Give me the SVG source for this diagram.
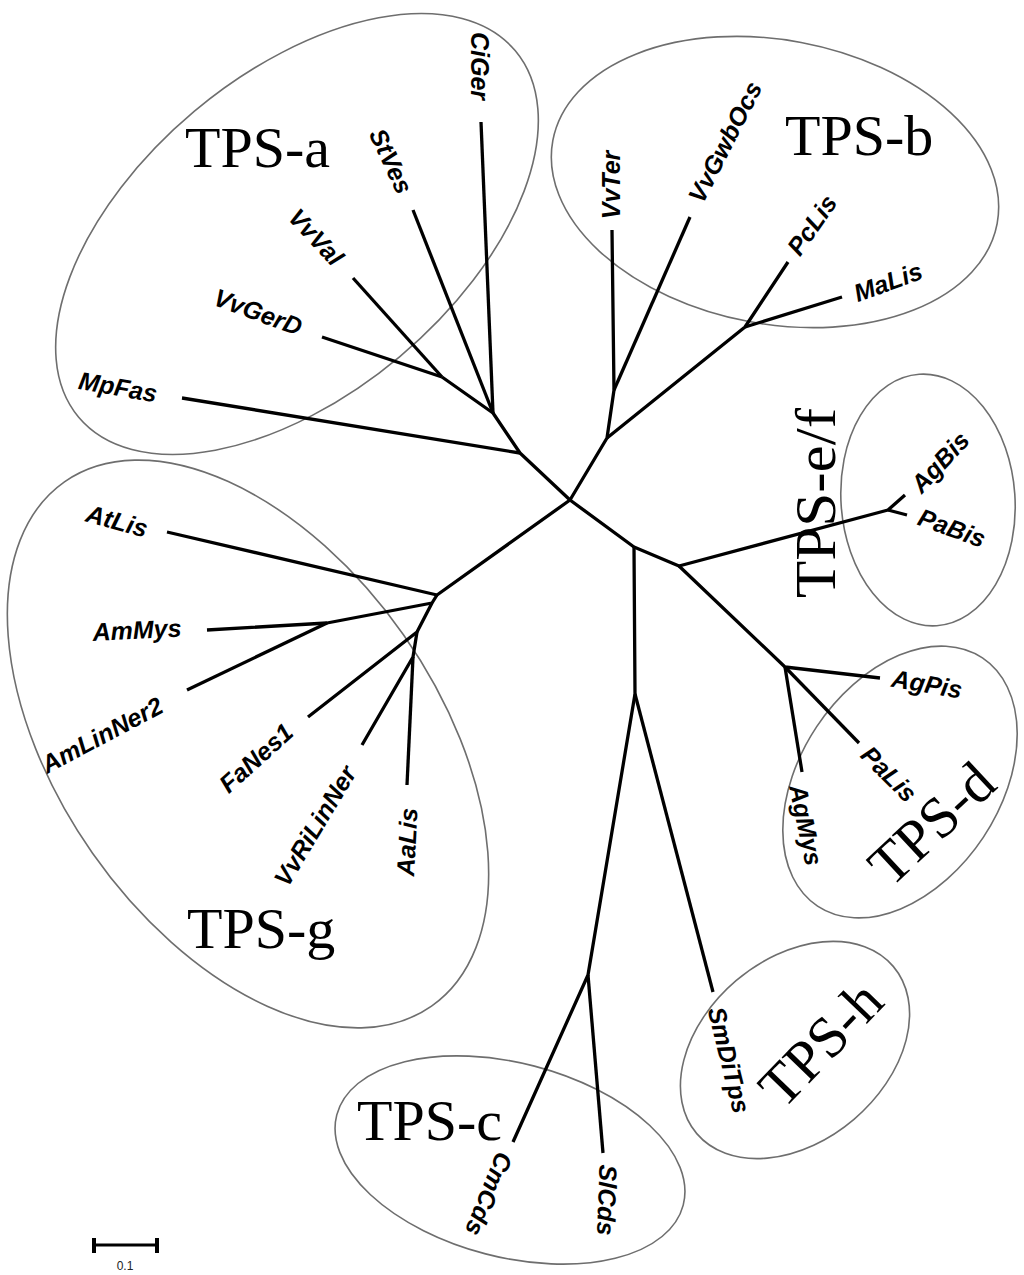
<svg xmlns="http://www.w3.org/2000/svg" width="1024" height="1275" viewBox="0 0 1024 1275">
<style>
.edge{fill:none;stroke:#000;stroke-width:3.3;stroke-linejoin:round;stroke-linecap:butt}
.clade{fill:none;stroke:#6e6e6e;stroke-width:1.6}
.leaf{font-family:"Liberation Sans",Arial,sans-serif;font-weight:bold;font-style:italic;font-size:25px;fill:#000;text-anchor:middle}
.tps{font-family:"Liberation Serif","Times New Roman",serif;font-size:58px;fill:#000}
.scale{font-family:"Liberation Sans",Arial,sans-serif;font-size:12px;fill:#222;text-anchor:middle}
</style>
<rect width="1024" height="1275" fill="#fff"/>

<g id="clades">
  <g id="clade-tps-a"><ellipse class="clade" cx="297" cy="234" rx="285" ry="160" transform="rotate(-40 297 234)"/><text class="tps" x="185" y="167">TPS-a</text></g>
  <g id="clade-tps-b"><ellipse class="clade" cx="775" cy="182" rx="226" ry="142" transform="rotate(10.6 775 182)"/><text class="tps" x="785" y="155">TPS-b</text></g>
  <g id="clade-tps-ef"><ellipse class="clade" cx="928" cy="500" rx="87" ry="126" transform="rotate(-4 928 500)"/><text class="tps" transform="translate(835 598) rotate(-90)" textLength="190" lengthAdjust="spacingAndGlyphs">TPS-e/f</text></g>
  <g id="clade-tps-d"><ellipse class="clade" cx="900" cy="782" rx="149" ry="100" transform="rotate(-56.4 900 782)"/><text class="tps" text-anchor="middle" dy="0.35em" transform="translate(931 823) rotate(-43)">TPS-d</text></g>
  <g id="clade-tps-h"><ellipse class="clade" cx="795" cy="1050" rx="129" ry="91" transform="rotate(-40.4 795 1050)"/><text class="tps" text-anchor="middle" dy="0.35em" transform="translate(820 1043) rotate(-46)">TPS-h</text></g>
  <g id="clade-tps-c"><ellipse class="clade" cx="510" cy="1160" rx="179" ry="97" transform="rotate(14.6 510 1160)"/><text class="tps" x="357" y="1140">TPS-c</text></g>
  <g id="clade-tps-g"><ellipse class="clade" cx="248" cy="744" rx="320" ry="190" transform="rotate(55 248 744)"/><text class="tps" x="187" y="948">TPS-g</text></g>
</g>

<g id="connectors">
  <path class="edge" d="M570 500 L520 453 L493 413 L442 377"/>
  <path class="edge" d="M520 453 L182 398"/>
  <path class="edge" d="M493 413 L481 122"/>
  <path class="edge" d="M493 413 L413 210"/>
  <path class="edge" d="M442 377 L353 278"/>
  <path class="edge" d="M442 377 L322 337"/>
  <path class="edge" d="M570 500 L607 438 L614 390 L612 230"/>
  <path class="edge" d="M614 390 L690 217"/>
  <path class="edge" d="M607 438 L745 327 L788 262"/>
  <path class="edge" d="M745 327 L842 297"/>
  <path class="edge" d="M570 500 L634 547 L679 566 L888 510 L905 495"/>
  <path class="edge" d="M888 510 L907 515"/>
  <path class="edge" d="M679 566 L785 667 L880 678"/>
  <path class="edge" d="M785 667 L859 743"/>
  <path class="edge" d="M785 667 L802 772"/>
  <path class="edge" d="M634 547 L635 694 L588 975 L513 1142"/>
  <path class="edge" d="M588 975 L603 1153"/>
  <path class="edge" d="M635 694 L713 992"/>
  <path class="edge" d="M570 500 L437 595 L167 532"/>
  <path class="edge" d="M437 595 L432 603 L327 623 L207 630"/>
  <path class="edge" d="M327 623 L187 690"/>
  <path class="edge" d="M432 603 L417 632 L308 717"/>
  <path class="edge" d="M417 632 L413 657 L362 745"/>
  <path class="edge" d="M413 657 L407 785"/>
</g>

<g id="leaves">
  <g id="CiGer"><text class="leaf" dy="0.35em" transform="translate(480 66) rotate(90)">CiGer</text></g>
  <g id="StVes"><text class="leaf" dy="0.35em" transform="translate(391 161) rotate(65)">StVes</text></g>
  <g id="VvVal"><text class="leaf" dy="0.35em" transform="translate(316 237) rotate(47)">VvVal</text></g>
  <g id="VvGerD"><text class="leaf" dy="0.35em" transform="translate(258 312) rotate(20)">VvGerD</text></g>
  <g id="MpFas"><text class="leaf" dy="0.35em" transform="translate(118 387) rotate(10)">MpFas</text></g>
  <g id="VvTer"><text class="leaf" dy="0.35em" transform="translate(611 185) rotate(-90)">VvTer</text></g>
  <g id="VvGwbOcs"><text class="leaf" dy="0.35em" transform="translate(725 142) rotate(-63)">VvGwbOcs</text></g>
  <g id="PcLis"><text class="leaf" dy="0.35em" transform="translate(812 225) rotate(-55)">PcLis</text></g>
  <g id="MaLis"><text class="leaf" dy="0.35em" transform="translate(888 282) rotate(-20)">MaLis</text></g>
  <g id="AgBis"><text class="leaf" dy="0.35em" transform="translate(940 462) rotate(-47)">AgBis</text></g>
  <g id="PaBis"><text class="leaf" dy="0.35em" transform="translate(952 528) rotate(20)">PaBis</text></g>
  <g id="AgPis"><text class="leaf" dy="0.35em" transform="translate(927 684) rotate(10)">AgPis</text></g>
  <g id="PaLis"><text class="leaf" dy="0.35em" transform="translate(889 774) rotate(45)">PaLis</text></g>
  <g id="AgMys"><text class="leaf" dy="0.35em" transform="translate(806 825) rotate(78)">AgMys</text></g>
  <g id="SmDiTps"><text class="leaf" dy="0.35em" transform="translate(729 1060) rotate(76)">SmDiTps</text></g>
  <g id="SlCds"><text class="leaf" dy="0.35em" transform="translate(607 1200) rotate(92)">SlCds</text></g>
  <g id="CmCds"><text class="leaf" dy="0.35em" transform="translate(489 1194) rotate(112)">CmCds</text></g>
  <g id="AaLis"><text class="leaf" dy="0.35em" transform="translate(407 842) rotate(-87)">AaLis</text></g>
  <g id="VvRiLinNer"><text class="leaf" dy="0.35em" transform="translate(315 826) rotate(-59)">VvRiLinNer</text></g>
  <g id="FaNes1"><text class="leaf" dy="0.35em" transform="translate(256 758) rotate(-42)">FaNes1</text></g>
  <g id="AmLinNer2"><text class="leaf" dy="0.35em" transform="translate(102 735) rotate(-28)">AmLinNer2</text></g>
  <g id="AmMys"><text class="leaf" dy="0.35em" transform="translate(137 630) rotate(-3)">AmMys</text></g>
  <g id="AtLis"><text class="leaf" dy="0.35em" transform="translate(117 521) rotate(15)">AtLis</text></g>
</g>

<g id="scale-bar">
  <path d="M94 1245 H157" stroke="#000" stroke-width="3" fill="none"/>
  <path d="M94 1238 V1253 M157 1238 V1253" stroke="#000" stroke-width="4" fill="none"/>
  <text class="scale" x="125" y="1270">0.1</text>
</g>
</svg>
